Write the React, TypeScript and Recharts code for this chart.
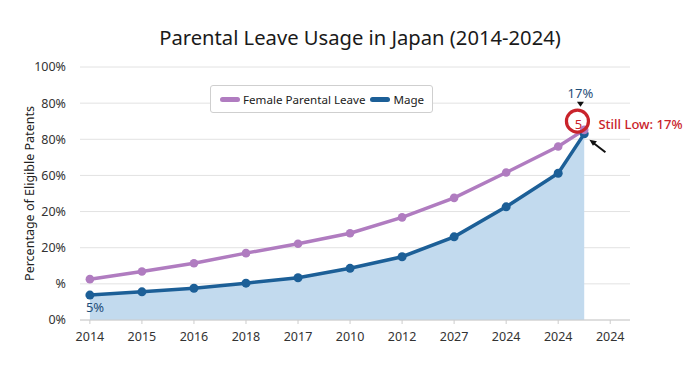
import React from 'react';
import {
  ComposedChart, Area, Line, XAxis, YAxis, CartesianGrid, ReferenceDot,
} from 'recharts';

const xTicks = [0, 1, 2, 3, 4, 5, 6, 7, 8, 9, 10];
const xLabels = ['2014', '2015', '2016', '2018', '2017', '2010', '2012', '2027', '2024', '2024', '2024'];
const yTicks = [0, 1, 2, 3, 4, 5, 6, 7];
const yLabels = ['0%', '%', '20%', '20%', '60%', '80%', '80%', '100%'];
const xPositions = [0, 1, 2, 3, 4, 5, 6, 7, 8, 9, 9.5];
const femaleValues = [1.13, 1.34, 1.57, 1.85, 2.11, 2.4, 2.84, 3.38, 4.08, 4.8, 5.26];
const mageValues = [0.69, 0.78, 0.88, 1.02, 1.17, 1.43, 1.75, 2.3, 3.13, 4.06, 5.15];
const seriesNames = ['Female Parental Leave', 'Mage'];
const highlight = { x: 9.37, y: 5.5, inner: '5', top: '17%', side: 'Still Low: 17%' };
const firstLabel = '5%';

const PURPLE = '#b07cc0';
const BLUE = '#1c5f97';
const FILL = '#c2daee';
const RED = '#c9232b';
const FONT = '"Noto Sans", "Open Sans", sans-serif';

const data = xPositions.map((x, i) => ({ x, female: femaleValues[i], mage: mageValues[i] }));

const LegendBox = () => (
  <div
    style={{
      position: 'absolute', left: 210, top: 85, height: 28, boxSizing: 'border-box',
      display: 'flex', alignItems: 'center', border: '1px solid #cfcfcf', borderRadius: 3,
      background: '#fff', padding: '0 8px 0 9px', fontFamily: FONT, fontSize: 11.6, color: '#222',
      zIndex: 2,
    }}
  >
    <span style={{ width: 20, height: 5, borderRadius: 3, background: PURPLE, display: 'inline-block', marginRight: 3 }} />
    <span style={{ marginRight: 5 }}>{seriesNames[0]}</span>
    <span style={{ width: 20, height: 5, borderRadius: 3, background: BLUE, display: 'inline-block', marginRight: 3 }} />
    <span>{seriesNames[1]}</span>
  </div>
);

const HighlightShape = (props: any) => {
  const { cx, cy } = props;
  if (cx == null || cy == null) return null;
  return (
    <g>
      <circle cx={cx} cy={cy} r={11} fill="none" stroke={RED} strokeWidth={3.2} />
      <text x={cx + 1} y={cy + 8} textAnchor="middle" fill={RED} fontSize={13} fontFamily={FONT}>{highlight.inner}</text>
      <text x={cx + 3} y={cy - 23} textAnchor="middle" fill="#1f4e79" fontSize={13} fontFamily={FONT}>{highlight.top}</text>
      <path d={`M ${cx + 3} ${cy - 14.5} l -3.5 -5 l 7 0 z`} fill="#111" />
      <text x={cx + 21} y={cy + 8} fill={RED} fontSize={13} fontFamily={FONT} fontWeight={500}>{highlight.side}</text>
      <line x1={cx + 28} y1={cy + 31} x2={cx + 15} y2={cy + 21} stroke="#111" strokeWidth={2} />
      <path d={`M ${cx + 12} ${cy + 18.5} l 7.5 1.5 l -4 4.5 z`} fill="#111" />
    </g>
  );
};

const FirstPointLabel = (props: any) => {
  const { x, y, index } = props;
  if (index !== 0) return null;
  return (
    <text x={x - 4} y={y + 17} fill="#1f4e79" fontSize={13} fontFamily={FONT}>{firstLabel}</text>
  );
};

export default function App() {
  return (
    <div style={{ position: 'absolute', left: 0, top: 0, width: 700, height: 382, background: '#fff' }}>
      <div
        style={{
          position: 'absolute', top: 23, left: 10, width: 700, textAlign: 'center',
          fontFamily: FONT, fontSize: 20.2, color: '#1a1a1a', zIndex: 2,
        }}
      >
        Parental Leave Usage in Japan (2014-2024)
      </div>
      <LegendBox />
      <ComposedChart
        width={700}
        height={382}
        data={data}
        margin={{ top: 67, right: 70, bottom: 32, left: 0 }}
      >
        <CartesianGrid horizontal vertical={false} stroke="#e2e2e2" />
        <XAxis
          dataKey="x"
          type="number"
          domain={[-0.19, 10.38]}
          ticks={xTicks}
          tickFormatter={(v: number) => xLabels[v] ?? ''}
          interval={0}
          height={30}
          stroke="#cccccc"
          tickSize={4}
          tickMargin={8}
          tick={{ fill: '#333', fontSize: 12.5, fontFamily: FONT }}
          allowDataOverflow
        />
        <YAxis
          type="number"
          domain={[0, 7]}
          ticks={yTicks}
          tickFormatter={(v: number) => yLabels[v] ?? ''}
          interval={0}
          width={80}
          axisLine={false}
          tickLine={false}
          tickMargin={8}
          tick={{ fill: '#333', fontSize: 12.5, fontFamily: FONT }}
          label={{
            value: 'Percentage of Eligible Patents', angle: -90, position: 'insideLeft', offset: 30,
            style: { fill: '#222', fontSize: 12.5, fontFamily: FONT, textAnchor: 'middle' },
          }}
        />
        <Area
          type="linear"
          dataKey="mage"
          name={seriesNames[1]}
          stroke={BLUE}
          strokeWidth={3.5}
          fill={FILL}
          fillOpacity={1}
          dot={{ r: 4.5, fill: BLUE, stroke: BLUE, strokeWidth: 0 }}
          activeDot={false}
          label={<FirstPointLabel />}
          isAnimationActive={false}
        />
        <Line
          type="linear"
          dataKey="female"
          name={seriesNames[0]}
          stroke={PURPLE}
          strokeWidth={3.5}
          dot={{ r: 4.3, fill: PURPLE, stroke: PURPLE, strokeWidth: 0 }}
          activeDot={false}
          isAnimationActive={false}
        />
        <ReferenceDot
          x={highlight.x}
          y={highlight.y}
          r={11}
          ifOverflow="visible"
          shape={<HighlightShape />}
        />
      </ComposedChart>
    </div>
  );
}
